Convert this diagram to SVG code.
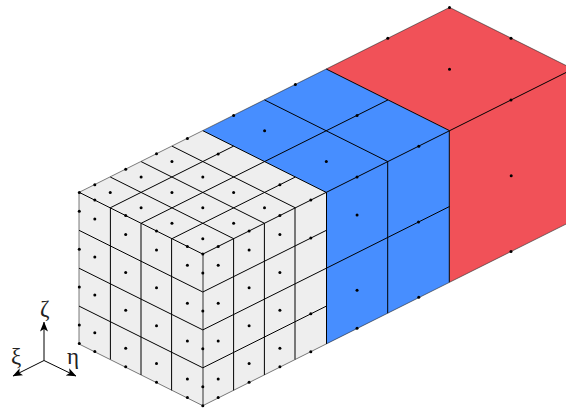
<svg xmlns="http://www.w3.org/2000/svg" width="566" height="409" viewBox="0 0 566 409">
<defs>
<marker id="head" viewBox="0 0 10 8" refX="9.5" refY="4" markerWidth="10" markerHeight="8" markerUnits="userSpaceOnUse" orient="auto"><path d="M0 0L10 4L0 8L2.5 4Z" fill="#000"/></marker>
<circle id="d" r="1.5" fill="#000"/>
</defs>
<style>
.gray{fill:#eeeeee}.blue{fill:#478eff}.red{fill:#f15158}
.edge{fill:none;stroke:#000;stroke-width:1}
.outer{fill:none;stroke:#222;stroke-width:.6}
.axis{fill:none;stroke:#000;stroke-width:1;marker-end:url(#head)}
.lab{font-family:"Liberation Serif",serif;font-size:23px;fill:#222}
</style>
<g id="faces">
<path class="gray" d="M202.8 254.1L79 192.4L202.8 130.7L326.4 192.4ZM202.8 254.1L79 192.4V344L202.8 405.7ZM202.8 254.1L326.4 192.4V344L202.8 405.7Z"/>
<path class="blue" d="M326.4 192.4L202.8 130.7L326.2 69L449.5 130.7ZM326.4 192.4L449.5 130.7V282.3L326.4 344Z"/>
<path class="red" d="M449.5 130.7L326.2 69L449.6 7.4L573 69ZM449.5 130.7L573 69V220.6L449.5 282.3Z"/>
</g>
<g id="connectors">
<path class="edge" d="M233.65 238.7L110.25 177M264.5 223.3L141.1 161.6M295.35 207.8L171.95 146.1M171.95 238.7L295.35 177M141.1 223.3L264.5 161.6M110.25 207.8L233.65 146.1M79.3 192.4L202.8 254.1L326.2 192.4M326.2 192.4L202.8 130.7"/>
<path class="edge" d="M326.2 192.4L449.6 130.7M264.5 161.6L388 99.9M387.9 161.6L264.5 99.9M326.2 69L449.6 130.7"/>
<path class="edge" d="M449.6 130.7L573 69"/>
<path class="edge" d="M110.4 207.8V359.5M141 223.3V375M171.6 238.7V390.4M233.6 238.7V390.4M264.4 223.3V375M295 207.8V359.5M326.5 192.4V344M387.7 161.6V313.2M449.3 130.7V282.3"/>
<path class="edge" d="M203 254.1V405.7" style="stroke:#333"/>
<path class="edge" d="M79 230.3L202.8 292M79 268.2L202.8 329.9M79 306.1L202.8 367.8M202.8 292L326.4 230.3M202.8 329.9L326.4 268.2M202.8 367.8L326.4 306.1M326.4 268.2L449.5 206.5"/>
<path class="outer" d="M79 192.4L326.2 69L449.6 7.4L573 69M79 192.4V344L202.8 405.7L449.5 282.3L573 220.6"/>
</g>
<g id="mesh-points">
<use href="#d" x="202.8" y="238.7"/><use href="#d" x="171.95" y="223.3"/><use href="#d" x="141.1" y="207.8"/><use href="#d" x="110.25" y="192.4"/>
<use href="#d" x="233.65" y="223.3"/><use href="#d" x="202.8" y="207.8"/><use href="#d" x="171.95" y="192.4"/><use href="#d" x="141.1" y="177"/>
<use href="#d" x="264.5" y="207.8"/><use href="#d" x="233.65" y="192.4"/><use href="#d" x="202.8" y="177"/><use href="#d" x="171.95" y="161.6"/>
<use href="#d" x="279.9" y="184.7"/><use href="#d" x="218.2" y="153.9"/>
<use href="#d" x="187.4" y="246.4"/><use href="#d" x="156.5" y="231"/><use href="#d" x="125.7" y="215.6"/><use href="#d" x="94.8" y="200.1"/>
<use href="#d" x="94.8" y="184.7"/><use href="#d" x="125.7" y="169.3"/><use href="#d" x="156.5" y="153.8"/><use href="#d" x="187.4" y="138.4"/>
<use href="#d" x="218.2" y="246.4"/><use href="#d" x="249.1" y="231"/><use href="#d" x="279.9" y="215.6"/><use href="#d" x="310.8" y="200.1"/>
<use href="#d" x="202.8" y="254.1"/><use href="#d" x="79.3" y="192.4"/><use href="#d" x="202.8" y="405.7"/><use href="#d" x="79.3" y="343.6"/>
<use href="#d" x="202.8" y="386.75"/><use href="#d" x="202.8" y="348.85"/><use href="#d" x="202.8" y="310.95"/><use href="#d" x="202.8" y="273.05"/>
<use href="#d" x="79.3" y="325"/><use href="#d" x="79.3" y="287"/><use href="#d" x="79.3" y="249.2"/><use href="#d" x="79.3" y="211.3"/>
<use href="#d" x="187.4" y="379"/><use href="#d" x="187.4" y="341.1"/><use href="#d" x="187.4" y="303.2"/><use href="#d" x="187.4" y="265.3"/>
<use href="#d" x="156.5" y="363.6"/><use href="#d" x="156.5" y="325.7"/><use href="#d" x="156.5" y="287.8"/><use href="#d" x="156.5" y="249.9"/>
<use href="#d" x="125.7" y="348.2"/><use href="#d" x="125.7" y="310.3"/><use href="#d" x="125.7" y="272.4"/><use href="#d" x="125.7" y="234.5"/>
<use href="#d" x="94.8" y="332.8"/><use href="#d" x="94.8" y="294.9"/><use href="#d" x="94.8" y="257"/><use href="#d" x="94.8" y="219.1"/>
<use href="#d" x="187.4" y="397.6"/><use href="#d" x="156.5" y="382.2"/><use href="#d" x="125.7" y="366.8"/><use href="#d" x="94.8" y="351.4"/>
<use href="#d" x="218.2" y="379"/><use href="#d" x="218.2" y="341.1"/><use href="#d" x="218.2" y="303.2"/><use href="#d" x="218.2" y="265.3"/>
<use href="#d" x="249.1" y="363.6"/><use href="#d" x="249.1" y="325.7"/><use href="#d" x="249.1" y="287.8"/><use href="#d" x="249.1" y="249.9"/>
<use href="#d" x="279.9" y="348.2"/><use href="#d" x="279.9" y="310.3"/><use href="#d" x="279.9" y="272.4"/><use href="#d" x="279.9" y="234.5"/>
<use href="#d" x="310.8" y="351.7"/><use href="#d" x="310.8" y="313.8"/><use href="#d" x="310.8" y="238"/>
<use href="#d" x="218.2" y="397.6"/><use href="#d" x="249.1" y="382.2"/><use href="#d" x="279.9" y="366.8"/>
<use href="#d" x="326.3" y="161.6"/><use href="#d" x="264.6" y="130.8"/><use href="#d" x="357.05" y="177"/><use href="#d" x="233.65" y="115.4"/><use href="#d" x="357.05" y="115.5"/><use href="#d" x="418.75" y="146.2"/><use href="#d" x="295.35" y="84.5"/>
<use href="#d" x="357.05" y="290.3"/><use href="#d" x="357.05" y="215"/><use href="#d" x="357.05" y="328.2"/><use href="#d" x="418.75" y="297.2"/><use href="#d" x="418.5" y="222"/>
<use href="#d" x="449.5" y="69.2"/><use href="#d" x="387.8" y="38.3"/><use href="#d" x="511" y="38.3"/><use href="#d" x="511" y="100"/><use href="#d" x="449.5" y="7.4"/><use href="#d" x="511.2" y="175.7"/><use href="#d" x="511" y="251.4"/>
</g>
<g id="axes">
<path class="axis" d="M44 360.5V322"/>
<path class="axis" d="M44 360.5L13 376"/>
<path class="axis" d="M44 360.5L76 376"/>
<text class="lab" x="40" y="316">ζ</text>
<text class="lab" x="11" y="364">ξ</text>
<text class="lab" x="67" y="364">η</text>
</g>
</svg>
